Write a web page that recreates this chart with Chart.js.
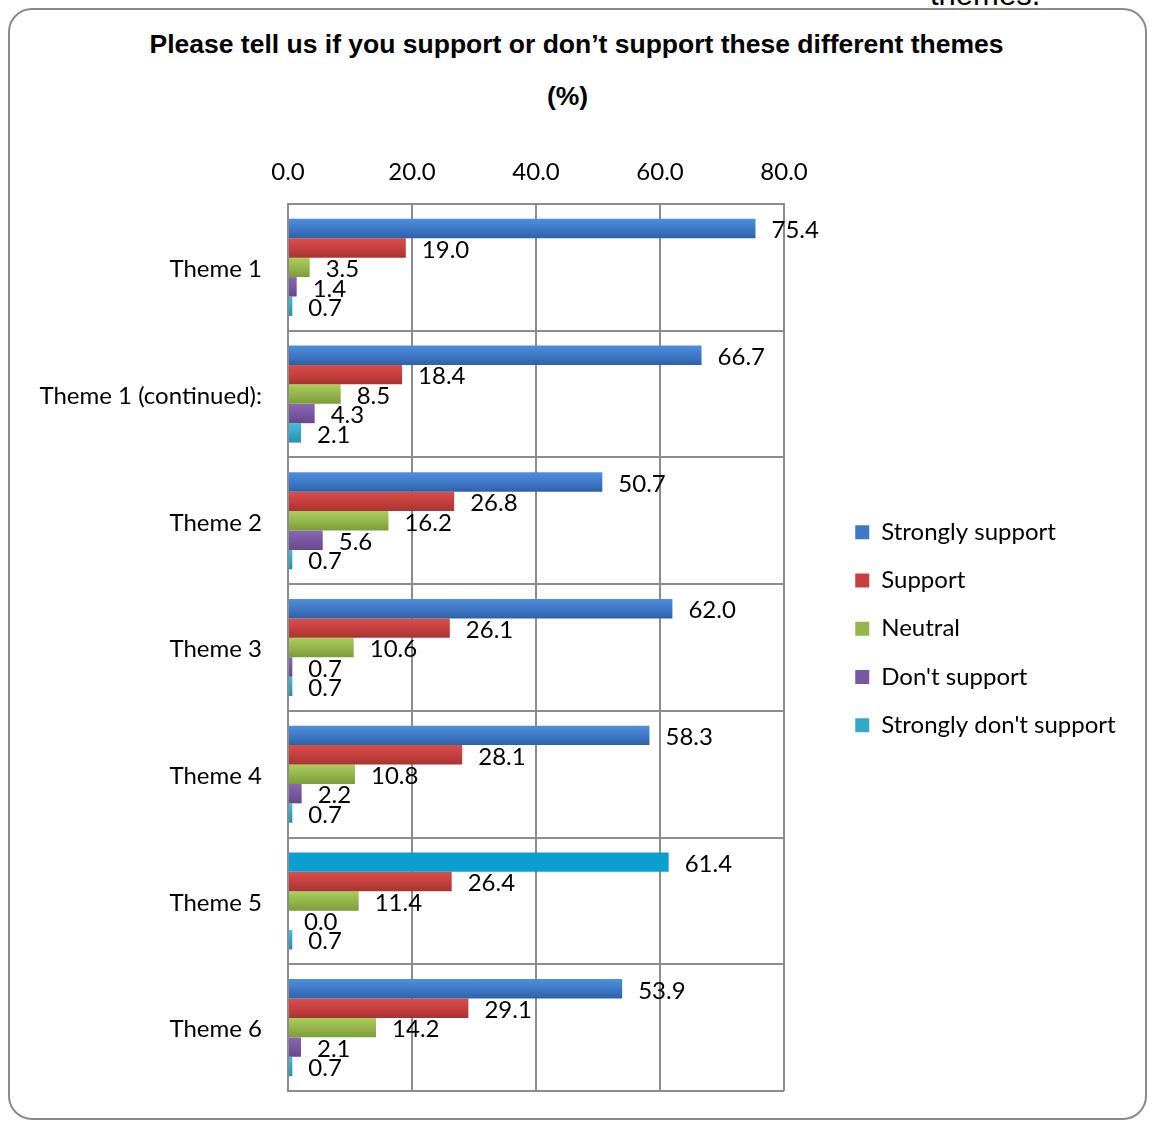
<!DOCTYPE html>
<html>
<head>
<meta charset="utf-8">
<script src="https://cdn.jsdelivr.net/npm/chart.js@4"></script>
<style>
  body { margin: 0; background: #fff; }
  #wrap { position: relative; width: 1149px; height: 1122px; overflow: hidden; }
  #frame { position: absolute; left: 8px; top: 8px; width: 1139px; height: 1112px; box-sizing: border-box;
           border: 2px solid #8a8a8a; border-radius: 24px; }
  .title { position: absolute; left: 0; width: 1149px; text-align: center; line-height: 30px;
           font: bold 26.5px "Liberation Sans", Arial, sans-serif; color: #000; }
  #cut { position: absolute; left: 930px; top: -23px; font: 31px "Liberation Sans", Arial, sans-serif; color: #000; }
  canvas { position: absolute; left: 0; top: 0; }
</style>
</head>
<body>
<div id="wrap">
  <div id="frame"></div>
  <div id="cut">themes.</div>
  <div class="title" style="top:29px; left:2px;">Please tell us if you support or don’t support these different themes</div>
  <div class="title" style="top:81px; left:-7px;">(%)</div>
  <canvas id="chart" width="1149" height="1122"></canvas>
</div>
<script>
const categories = ["Theme 1", "Theme 1 (continued):", "Theme 2", "Theme 3", "Theme 4", "Theme 5", "Theme 6"];
const seriesNames = ["Strongly support", "Support", "Neutral", "Don't support", "Strongly don't support"];
const stronglySupport = [75.4, 66.7, 50.7, 62.0, 58.3, 61.4, 53.9];
const support = [19.0, 18.4, 26.8, 26.1, 28.1, 26.4, 29.1];
const neutral = [3.5, 8.5, 16.2, 10.6, 10.8, 11.4, 14.2];
const dontSupport = [1.4, 4.3, 5.6, 0.7, 2.2, 0.0, 2.1];
const stronglyDont = [0.7, 2.1, 0.7, 0.7, 0.7, 0.7, 0.7];
const xTicks = [0, 20, 40, 60, 80];

// [top, mid, bottom] shades for the bar gradients
const shades = [
  ["#4f8fdb", "#3e79c8", "#2f62a6"],
  ["#d84e4b", "#c6403e", "#a63432"],
  ["#abce5b", "#95b64c", "#7d9c3a"],
  ["#8a68b2", "#7858a2", "#644a8a"],
  ["#45bedc", "#36a8c6", "#2a8eaa"]
];
const highlight = { dataset: 0, index: 5, color: "#0b9fd0" }; // Theme 5 bar is flat cyan

const CAT_PCT = 0.766;
const GRID = "#8c8c8c";
const FONT = "Lato, 'Open Sans', sans-serif";
const FS = 24;

function barColor(c) {
  const s = shades[c.datasetIndex];
  if (c.type !== "data") return s[1];
  if (c.datasetIndex === highlight.dataset && c.dataIndex === highlight.index) return highlight.color;
  const ys = c.chart.scales.y;
  if (!ys || !isFinite(ys.top)) return s[1];
  const band = (ys.bottom - ys.top) / categories.length;
  const barH = band * CAT_PCT / seriesNames.length;
  const y0 = ys.getPixelForValue(c.dataIndex) - band * CAT_PCT / 2 + c.datasetIndex * barH;
  const g = c.chart.ctx.createLinearGradient(0, y0, 0, y0 + barH);
  g.addColorStop(0, s[0]);
  g.addColorStop(0.5, s[1]);
  g.addColorStop(1, s[2]);
  return g;
}

const valueLabels = {
  id: "valueLabels",
  afterDatasetsDraw(chart) {
    const ctx = chart.ctx;
    ctx.save();
    ctx.font = FS + "px " + FONT;
    ctx.fillStyle = "#000";
    ctx.textAlign = "left";
    ctx.textBaseline = "middle";
    chart.data.datasets.forEach((ds, i) => {
      chart.getDatasetMeta(i).data.forEach((bar, j) => {
        ctx.fillText(ds.data[j].toFixed(1), bar.x + 16, bar.y + 2);
      });
    });
    ctx.restore();
  }
};

// put the legend where the original has it
const legendPlace = {
  id: "legendPlace",
  afterLayout(chart) {
    const lg = chart.legend;
    lg.left = 831; lg.right = 1149; lg.width = 318;
    lg.top = 496; lg.bottom = 1122; lg.height = 626;
  }
};

const series = [stronglySupport, support, neutral, dontSupport, stronglyDont];

new Chart(document.getElementById("chart"), {
  type: "bar",
  data: {
    labels: categories,
    datasets: series.map((d, i) => ({
      label: seriesNames[i],
      data: d,
      backgroundColor: barColor,
      borderWidth: 0,
      barPercentage: 1,
      categoryPercentage: CAT_PCT
    }))
  },
  options: {
    indexAxis: "y",
    responsive: false,
    animation: false,
    layout: { padding: { left: 0, top: 150, right: 115, bottom: 31 } },
    plugins: {
      title: { display: false },
      tooltip: { enabled: false },
      legend: {
        position: "right",
        align: "start",
        maxWidth: 250,
        labels: {
          font: { family: FONT, size: FS },
          color: "#000",
          boxWidth: 14,
          boxHeight: 14,
          padding: 24.25,
          generateLabels(chart) {
            return Chart.defaults.plugins.legend.labels.generateLabels(chart).map((it, i) => {
              it.fillStyle = shades[i][1];
              it.strokeStyle = shades[i][1];
              it.lineWidth = 0;
              return it;
            });
          }
        }
      }
    },
    scales: {
      x: {
        position: "top",
        min: 0,
        max: 80,
        afterBuildTicks(scale) { scale.ticks = xTicks.map(v => ({ value: v })); },
        afterFit(scale) { scale.height = 54; scale.paddingLeft = 0; scale.paddingRight = 0; },
        ticks: {
          font: { family: FONT, size: FS },
          color: "#000",
          padding: 17,
          callback: v => Number(v).toFixed(1)
        },
        grid: { color: GRID, lineWidth: 2, drawTicks: false },
        border: { color: GRID, width: 2 }
      },
      y: {
        afterFit(scale) { scale.width = 288; scale.paddingTop = 0; scale.paddingBottom = 0; },
        ticks: {
          font: { family: FONT, size: FS },
          color: "#000",
          padding: 26,
          labelOffset: 2
        },
        grid: { color: GRID, lineWidth: 2, drawTicks: false, offset: true },
        border: { color: GRID, width: 2 }
      }
    }
  },
  plugins: [valueLabels, legendPlace]
});
</script>
</body>
</html>
